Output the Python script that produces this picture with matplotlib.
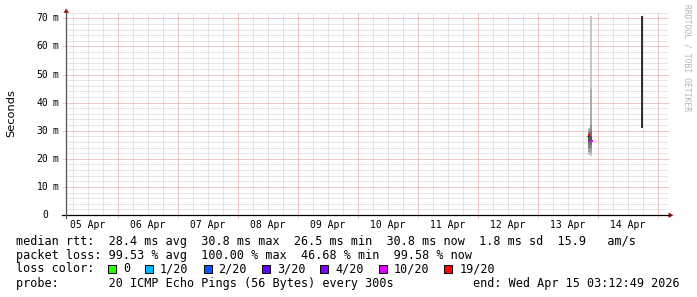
import numpy as np
import matplotlib
matplotlib.use("Agg")
import matplotlib.pyplot as plt
from matplotlib.patches import Rectangle, Polygon
from matplotlib.lines import Line2D

# ---------------- data ----------------
# time axis in hours since 05 Apr 00:00
x_start, x_end = 3.2, 243.2
day_labels = ["05 Apr", "06 Apr", "07 Apr", "08 Apr", "09 Apr",
              "10 Apr", "11 Apr", "12 Apr", "13 Apr", "14 Apr"]
y_ticks = [0, 10, 20, 30, 40, 50, 60, 70]          # ms
y_max = 72

step = 0.9                                           # hours per smoke column
smoke_times = [212.1, 213.0]                         # column start (h)
smoke_pings = [[21.5, 22.5, 24.0, 26.0, 28.4, 29.5, 30.5, 31.0],
               [21.0, 22.0, 23.5, 25.0, 26.5, 28.0, 30.0, 32.0, 45.0, 71.0]]
median_times = [212.0, 213.1]
median_vals = [28.4, 26.5]
median_loss = ["19/20", "10/20"]
spike_time = 233.2
spike_lo, spike_hi = 30.8, 71.0
prev_tick_time = 211.7
prev_tick_val = 28.2

loss_labels = ["0", "1/20", "2/20", "3/20", "4/20", "10/20", "19/20"]
loss_colors = ["#26ff00", "#00b8ff", "#0059ff", "#5e00ff", "#7e00ff", "#dd00ff", "#ff0000"]

line1 = "median rtt:  28.4 ms avg  30.8 ms max  26.5 ms min  30.8 ms now  1.8 ms sd  15.9   am/s"
line2 = "packet loss: 99.53 % avg  100.00 % max  46.68 % min  99.58 % now"
line3 = "loss color:"
line4 = "probe:       20 ICMP Echo Pings (56 Bytes) every 300s"
end_text = "end: Wed Apr 15 03:12:49 2026"
ylabel = "Seconds"
watermark = "RRDTOOL / TOBI OETIKER"

# ---------------- figure ----------------
W, H = 697, 297
fig = plt.figure(figsize=(W / 100, H / 100), dpi=100)
fig.patch.set_facecolor("white")

def P(x, y):
    return (x / W, 1 - y / H)

ax_left, ax_right, ax_bottom, ax_top = 65.5, 665.5, 215.0, 12.7
ax = fig.add_axes([ax_left / W, 1 - ax_bottom / H, (ax_right - ax_left) / W,
                   (ax_bottom - ax_top) / H])
ax.set_xlim(x_start, x_end)
ax.set_ylim(0, y_max)
ax.set_axis_off()

minor_c = "#cccccc"
major_c = "#e09090"
dot = (0, (1, 1))
lw = 0.72
ext_y = 2.5 / (ax_bottom - ax_top)
ext_x = 2.5 / (ax_right - ax_left)

# vertical grid
for t in np.arange(6, x_end, 6):
    if t < x_start:
        continue
    if t % 24 == 0:
        ax.axvline(t, ymin=-ext_y, ymax=1, color=major_c, lw=lw, ls=dot, clip_on=False, zorder=2)
    else:
        ax.axvline(t, color=minor_c, lw=lw, ls=dot, zorder=1)
# horizontal grid
for v in np.arange(2, y_max + 0.1, 2):
    if v % 10 == 0:
        ax.axhline(v, xmin=-ext_x, xmax=1 + ext_x, color=major_c, lw=lw, ls=dot, clip_on=False, zorder=2)
    else:
        ax.axhline(v, xmin=0, xmax=1 + ext_x, color=minor_c, lw=lw, ls=dot, clip_on=False, zorder=1)

# smoke
light = np.array([0.78, 0.78, 0.78])
dark = np.array([0.33, 0.33, 0.33])
for t, pings in zip(smoke_times, smoke_pings):
    p = sorted(pings)
    n = len(p)
    half = n // 2
    for i in range(half):
        lo, hi = p[i], p[n - 1 - i]
        f = i / max(half - 1, 1)
        col = light * (1 - f) + dark * f
        ax.bar(t, hi - lo, bottom=lo, width=step, align="edge", color=col,
               linewidth=0, zorder=3)
# spike
ax.bar(spike_time, spike_hi - spike_lo, bottom=spike_lo, width=step, align="edge",
       color="#333333", linewidth=0, zorder=3)
# medians
for t, v, l in zip(median_times, median_vals, median_loss):
    ax.hlines(v, t, t + step * 1.1, color=loss_colors[loss_labels.index(l)], lw=1.5, zorder=4)
ax.hlines(prev_tick_val, prev_tick_time, prev_tick_time + 0.4, color="black", lw=0.8, zorder=4)

# axes lines & arrows
fig.add_artist(Line2D([62 / W, 669 / W], [1 - 215.2 / H] * 2, color="black", lw=0.9))
fig.add_artist(Line2D([66 / W] * 2, [1 - 218 / H, 1 - 12 / H], color="#555555", lw=0.9))
arrow_c = "#a01010"
fig.add_artist(Polygon([P(668.5, 212.5), P(673.5, 215.2), P(668.5, 218)], closed=True,
                       transform=fig.transFigure, color=arrow_c, lw=0))
fig.add_artist(Polygon([P(63.5, 12.8), P(66.2, 8.5), P(69, 12.8)], closed=True,
                       transform=fig.transFigure, color=arrow_c, lw=0))

mono = "DejaVu Sans Mono"
# y tick labels
for v in y_ticks:
    yy = 215 - v * (ax_bottom - ax_top) / y_max
    fig.text(48.5 / W, 1 - yy / H, str(v), family=mono, size=7, ha="right", va="center")
    if v > 0:
        fig.text(53 / W, 1 - yy / H, "m", family=mono, size=7, ha="left", va="center")
# x labels at noon
for i, lab in enumerate(day_labels):
    t = 12 + 24 * i
    xx = ax_left + (t - x_start) * (ax_right - ax_left) / (x_end - x_start)
    fig.text(xx / W, 1 - 225 / H, lab, family=mono, size=7, ha="center", va="center")

fig.text(11 / W, 1 - 113 / H, ylabel, family="DejaVu Sans", size=8.2, rotation=90,
         ha="center", va="center")
fig.text(687 / W, 1 - 58 / H, watermark, family=mono, size=5.8, rotation=270,
         ha="center", va="center", color="#b4b4b4")

# legend
fs = 8.5
fig.text(16 / W, 1 - 241 / H, line1, family=mono, size=fs, ha="left", va="center")
fig.text(16 / W, 1 - 255 / H, line2, family=mono, size=fs, ha="left", va="center")
fig.text(16 / W, 1 - 269 / H, line3, family=mono, size=fs, ha="left", va="center")
fig.text(16 / W, 1 - 283 / H, line4, family=mono, size=fs, ha="left", va="center")
fig.text(680 / W, 1 - 283 / H, end_text, family=mono, size=fs, ha="right", va="center")

cw = 7.11
x = 108.0
for lab, col in zip(loss_labels, loss_colors):
    fig.add_artist(Rectangle(P(x, 273), 8 / W, 8 / H, transform=fig.transFigure,
                             facecolor=col, edgecolor="black", lw=0.7))
    tx = x + 15
    fig.text(tx / W, 1 - 269 / H, lab, family=mono, size=fs, ha="left", va="center")
    x = tx + len(lab) * cw + 15

fig.savefig("out.png", dpi=100)
